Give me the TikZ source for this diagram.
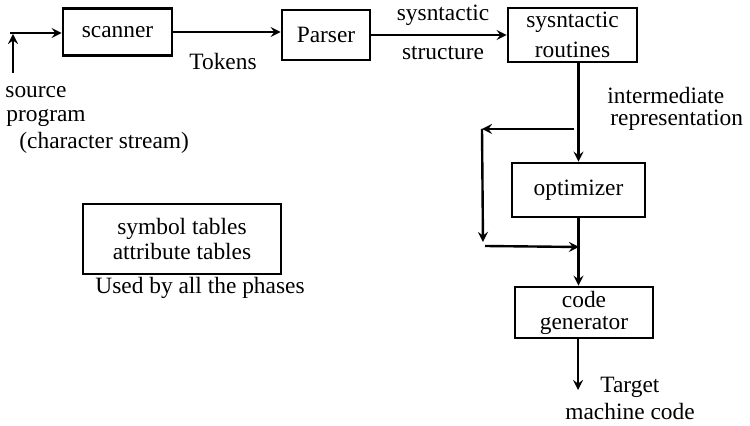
\documentclass[tikz,border=0pt]{standalone}
\usepackage{fontspec}
\setmainfont{Liberation Serif}
\usetikzlibrary{calc}
\begin{document}
\begin{tikzpicture}[x=0.5pt,y=-0.5pt,>=stealth,
  every node/.style={font=\fontsize{11.7}{13}\selectfont},
  phase/.style={draw,line width=1.3pt,inner sep=0pt,align=center},
  flow/.style={->,line width=1.2pt},
  lbl/.style={inner sep=0pt}]

\useasboundingbox (0,0) rectangle (750,426);

% phase boxes
\node[phase,minimum width=54.5pt,minimum height=23.5pt] (scanner) at (117.5,32) {scanner};
\node[phase,minimum width=44pt,minimum height=25pt] (parser) at (326,35) {Parser};
\node[phase,minimum width=64.5pt,minimum height=27pt,
  font=\fontsize{11.7}{15}\selectfont] (routines) at (572.5,35) {sysntactic\\routines};
\node[phase,minimum width=66.5pt,minimum height=27pt] (optimizer) at (578.5,190) {optimizer};
\node[phase,minimum width=69pt,minimum height=25.5pt,
  font=\fontsize{11.7}{11}\selectfont] (codegen) at (584,312.5) {code\\generator};
\node[phase,minimum width=99pt,minimum height=35pt,
  font=\fontsize{11.7}{12.5}\selectfont] (tables) at (182,239) {symbol tables\\attribute tables};

% source program
\coordinate (srcfoot) at (13,73);
\coordinate (srcjoin) at (13,34);
\coordinate (srcstart) at (10,33);
\draw[flow] (srcfoot) -- (srcjoin);
\draw[flow] (srcstart) -- (srcstart -| scanner.west);
\node[lbl,anchor=west] (source) at (5,92) {source};
\node[lbl,anchor=west] (program) at (6,118) {program};
\node[lbl,anchor=west] (stream) at (19,143) {(character stream)};

% front end
\draw[flow] (scanner.east) -- (scanner.east -| parser.west);
\node[lbl] (tokens) at (223,62) {Tokens};
\draw[flow] (parser.east) -- (parser.east -| routines.west);
\node[lbl] (synt) at (443,15) {sysntactic};
\node[lbl] (struct) at (443,53) {structure};

% intermediate representation
\draw[flow] (routines.south -| optimizer.north) -- (optimizer.north);
\node[lbl,anchor=west] (inter) at (607,96) {intermediate};
\node[lbl,anchor=west] (repr) at (610,120) {representation};

% bypass of the optimizer
\coordinate (split) at (574,129);
\coordinate (bypasstop) at (482,129);
\coordinate (bypassbot) at (483,242);
\coordinate (bypassend) at (485,246);
\coordinate (merge) at (579,247);
\draw[flow] (split) -- (bypasstop);
\draw[flow] (bypasstop) -- (bypassbot);
\draw[flow] (bypassend) -- (merge);
\draw[flow] (optimizer.south) -- (optimizer.south |- codegen.north);

% output
\coordinate (target) at (578,390);
\draw[flow] (codegen.south -| target) -- (target);
\node[lbl,anchor=west] (tgt) at (600,387) {Target};
\node[lbl,anchor=west] (mcode) at (565,411) {machine code};

\node[lbl] (used) at (200,288) {Used by all the phases};
\end{tikzpicture}
\end{document}
